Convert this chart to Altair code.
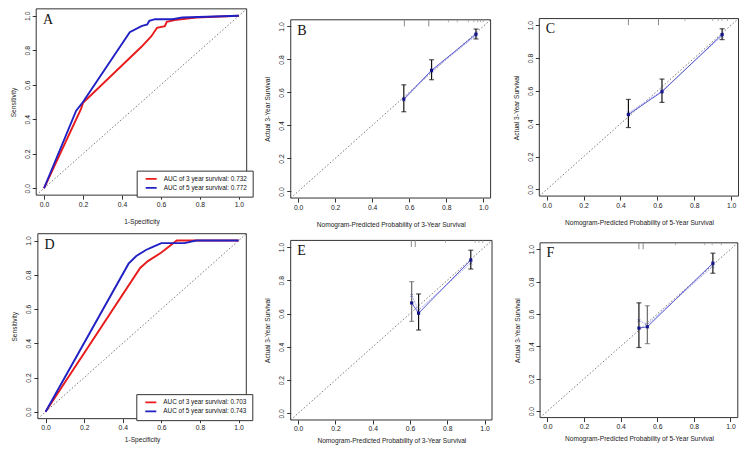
import altair as alt
import pandas as pd

# ---------------- data ----------------
# ROC curves (panel A: training, panel D: validation)
A3_FPR = [0.0, 0.19, 0.20, 0.50, 0.55, 0.58, 0.62, 0.63, 0.67, 0.78, 1.0]
A3_TPR = [0.0, 0.46, 0.495, 0.82, 0.88, 0.93, 0.94, 0.965, 0.975, 0.99, 1.0]
A5_FPR = [0.0, 0.165, 0.20, 0.44, 0.50, 0.53, 0.54, 0.57, 0.66, 0.71, 1.0]
A5_TPR = [0.0, 0.45, 0.50, 0.905, 0.94, 0.95, 0.97, 0.98, 0.98, 0.99, 1.0]
A_LABELS = ["AUC of 3 year survival:  0.732", "AUC of 5 year survival:  0.772"]

D3_FPR = [0.0, 0.49, 0.53, 0.60, 0.68, 1.0]
D3_TPR = [0.0, 0.84, 0.88, 0.93, 1.0, 1.0]
D5_FPR = [0.0, 0.43, 0.47, 0.52, 0.55, 0.60, 0.72, 0.78, 1.0]
D5_TPR = [0.0, 0.865, 0.91, 0.945, 0.96, 0.985, 0.985, 1.0, 1.0]
D_LABELS = ["AUC of 3 year survival:  0.703", "AUC of 5 year survival:  0.743"]

# Calibration curves
B_PRED = [0.571, 0.721, 0.961]
B_OBS = [0.560, 0.734, 0.953]
B_LO = [0.483, 0.677, 0.924]
B_HI = [0.646, 0.798, 0.984]
B_CORR = [0.555, 0.728, 0.945]
B_RUG_LONG = [0.574, 0.706]
B_RUG_SHORT = [0.812, 0.86, 0.92, 0.95, 0.97, 0.985, 1.0]

C_PRED = [0.443, 0.625, 0.951]
C_OBS = [0.456, 0.595, 0.943]
C_LO = [0.377, 0.530, 0.912]
C_HI = [0.548, 0.672, 0.978]
C_CORR = [0.465, 0.600, 0.935]
C_RUG_LONG = [0.443, 0.606]
C_RUG_SHORT = [0.75, 0.90, 0.93, 0.95, 0.98]

E_PRED = [0.609, 0.646, 0.926]
E_OBS = [0.664, 0.602, 0.922]
E_LO = [0.553, 0.501, 0.868]
E_HI = [0.792, 0.718, 0.981]
E_CORR = [0.709, 0.620, 0.905]
E_RUG_LONG = [0.607, 0.628]
E_RUG_SHORT = [0.79, 0.95, 0.97, 0.99]

F_PRED = [0.500, 0.546, 0.904]
F_OBS = [0.513, 0.521, 0.914]
F_LO = [0.393, 0.417, 0.852]
F_HI = [0.669, 0.651, 0.976]
F_CORR = [0.560, 0.535, 0.895]
F_RUG_LONG = [0.500, 0.523]
F_RUG_SHORT = [0.70, 0.86, 0.90, 0.95]

TICKS = [0.0, 0.2, 0.4, 0.6, 0.8, 1.0]

# ---------------- layout ----------------
W, H = 731, 438
SX, SY = 731 / 745, 438 / 452
LO, HI = -0.04, 1.04
FONT = "Liberation Sans"
RED, BLUE = "#e81a1a", "#2020c4"


def px(v):
    return (v - 1) * SX


def py(v):
    return v * SY


# reference-pixel positions of value 0 and value 1 on each panel (x0, x1, y0, y1)
GEOM = {
    "A": (37.7, 236.3, 186.0, 8.0),
    "B": (296.7, 485.3, 189.3, 19.0),
    "C": (550.0, 738.0, 187.3, 17.7),
    "D": (39.3, 236.0, 416.7, 240.0),
    "E": (296.7, 486.7, 418.3, 246.7),
    "F": (550.7, 737.3, 416.0, 249.0),
}
TOP_ROW = ("A", "B", "C")


def box(key):
    x0, x1, y0, y1 = GEOM[key]
    dx, dy = x1 - x0, y0 - y1
    return px(x0 - 0.04 * dx), px(x1 + 0.04 * dx), py(y0 + 0.04 * dy), py(y1 - 0.04 * dy)


def scales(key):
    left, right, bottom, top = box(key)
    xs = alt.Scale(domain=[LO, HI], range=[left, right], nice=False, zero=False)
    ys = alt.Scale(domain=[LO, HI], range=[bottom, top], nice=False, zero=False)
    return xs, ys


def frame(key, xtitle, ytitle):
    xs, ys = scales(key)
    left, right, bottom, top = box(key)
    df = pd.DataFrame({"lo": [LO], "hi": [HI]})
    xpad = 11 if key in TOP_ROW else 5
    return alt.Chart(df).mark_rect(filled=False, color="#333", strokeWidth=1).encode(
        x=alt.X("lo:Q", scale=xs, axis=alt.Axis(orient="bottom", offset=bottom - H, values=TICKS,
                                                format=".1f", title=xtitle, titlePadding=xpad)),
        x2="hi:Q",
        y=alt.Y("lo:Q", scale=ys, axis=alt.Axis(orient="left", offset=-left, values=TICKS,
                                                format=".1f", title=ytitle, labelAngle=270,
                                                labelAlign="center", labelBaseline="bottom",
                                                titlePadding=8)),
        y2="hi:Q",
    )


def diag(key):
    xs, ys = scales(key)
    df = pd.DataFrame({"d": [LO, HI]})
    return alt.Chart(df).mark_line(color="#555", strokeWidth=0.8, strokeDash=[1.5, 2]).encode(
        x=alt.X("d:Q", scale=xs, axis=None),
        y=alt.Y("d:Q", scale=ys, axis=None),
    )


def letter(key):
    xs, ys = scales(key)
    df = pd.DataFrame({"x": [-0.005], "y": [0.975], "t": [key]})
    return alt.Chart(df).mark_text(align="left", baseline="middle", font="Liberation Serif",
                                   fontSize=14, color="#111").encode(
        x=alt.X("x:Q", scale=xs, axis=None),
        y=alt.Y("y:Q", scale=ys, axis=None),
        text="t:N",
    )


def roc(key, f3, t3, f5, t5, labels):
    xs, ys = scales(key)
    left, right, bottom, top = box(key)
    df = pd.DataFrame({
        "fpr": f3 + f5,
        "tpr": t3 + t5,
        "curve": [labels[0]] * len(f3) + [labels[1]] * len(f5),
        "ord": list(range(len(f3))) + list(range(len(f5))),
    })
    legend = alt.Legend(orient="none", legendX=right - 110, legendY=bottom - 24.5, title=None,
                        symbolType="stroke", symbolSize=121, symbolStrokeWidth=1.8,
                        clipHeight=8.3, rowPadding=0, padding=4, symbolOffset=4, labelOffset=6,
                        strokeColor="#333", fillColor="white", labelFont=FONT, labelFontSize=6.4,
                        labelColor="#111")
    lines = alt.Chart(df).mark_line(strokeWidth=1.9).encode(
        x=alt.X("fpr:Q", scale=xs, axis=None),
        y=alt.Y("tpr:Q", scale=ys, axis=None),
        color=alt.Color("curve:N", scale=alt.Scale(domain=labels, range=[RED, BLUE]), legend=legend),
        order="ord:Q",
    )
    return [frame(key, "1-Specificity", "Sensitivity"), diag(key), lines, letter(key)]


def calib(key, pred, obs, lo, hi, corr, rug_long, rug_short, bar_colors, xtitle):
    xs, ys = scales(key)
    pts = pd.DataFrame({"pred": pred, "obs": obs, "lo": lo, "hi": hi, "corr": corr,
                        "i": [str(k) for k in range(len(pred))]})
    caps = pd.DataFrame({"pred": pred + pred, "v": lo + hi,
                         "i": [str(k) for k in range(len(pred))] * 2})
    bar_color = alt.Color("i:N", scale=alt.Scale(domain=["0", "1", "2"], range=bar_colors), legend=None)
    rl = pd.DataFrame({"r": rug_long})
    rs = pd.DataFrame({"r": rug_short})

    rug_long_l = alt.Chart(rl).mark_rule(color="#8a8a8a", strokeWidth=1).encode(
        x=alt.X("r:Q", scale=xs, axis=None),
        y=alt.YDatum(HI, scale=ys, axis=None),
        y2=alt.Y2Datum(1.0),
    )
    rug_short_l = alt.Chart(rs).mark_rule(color="#9a9a9a", strokeWidth=0.8).encode(
        x=alt.X("r:Q", scale=xs, axis=None),
        y=alt.YDatum(HI, scale=ys, axis=None),
        y2=alt.Y2Datum(1.025),
    )
    corr_line = alt.Chart(pts).mark_line(color="#a9a9ee", strokeWidth=1, strokeDash=[2, 1]).encode(
        x=alt.X("pred:Q", scale=xs, axis=None),
        y=alt.Y("corr:Q", scale=ys, axis=None),
    )
    corr_pts = alt.Chart(pts).mark_point(shape="M -1 -1 L 1 1 M -1 1 L 1 -1", size=10, filled=False,
                                          color="#9a9ae6", strokeWidth=0.9, opacity=1).encode(
        x=alt.X("pred:Q", scale=xs, axis=None),
        y=alt.Y("corr:Q", scale=ys, axis=None),
    )
    obs_line = alt.Chart(pts).mark_line(color="#5a5ad2", strokeWidth=1).encode(
        x=alt.X("pred:Q", scale=xs, axis=None),
        y=alt.Y("obs:Q", scale=ys, axis=None),
    )
    bars = alt.Chart(pts).mark_rule(strokeWidth=1.2).encode(
        x=alt.X("pred:Q", scale=xs, axis=None),
        y=alt.Y("lo:Q", scale=ys, axis=None),
        y2="hi:Q",
        color=bar_color,
    )
    cap_l = alt.Chart(caps).mark_tick(orient="horizontal", size=5, thickness=1.2).encode(
        x=alt.X("pred:Q", scale=xs, axis=None),
        y=alt.Y("v:Q", scale=ys, axis=None),
        color=bar_color,
    )
    dots = alt.Chart(pts).mark_square(size=10, color="#14148c", opacity=1).encode(
        x=alt.X("pred:Q", scale=xs, axis=None),
        y=alt.Y("obs:Q", scale=ys, axis=None),
    )
    return [frame(key, xtitle, "Actual 3-Year Survival"), diag(key), rug_long_l, rug_short_l,
            corr_line, corr_pts, obs_line, bars, cap_l, dots, letter(key)]


X3 = "Nomogram-Predicted Probability of 3-Year Survival"
X5 = "Nomogram-Predicted Probability of 5-Year Survival"
BLACK3 = ["#111", "#111", "#111"]

layers = []
layers += roc("A", A3_FPR, A3_TPR, A5_FPR, A5_TPR, A_LABELS)
layers += calib("B", B_PRED, B_OBS, B_LO, B_HI, B_CORR, B_RUG_LONG, B_RUG_SHORT, BLACK3, X3)
layers += calib("C", C_PRED, C_OBS, C_LO, C_HI, C_CORR, C_RUG_LONG, C_RUG_SHORT, BLACK3, X5)
layers += roc("D", D3_FPR, D3_TPR, D5_FPR, D5_TPR, D_LABELS)
layers += calib("E", E_PRED, E_OBS, E_LO, E_HI, E_CORR, E_RUG_LONG, E_RUG_SHORT,
                ["#6a6a6a", "#111", "#111"], X3)
layers += calib("F", F_PRED, F_OBS, F_LO, F_HI, F_CORR, F_RUG_LONG, F_RUG_SHORT,
                ["#111", "#6a6a6a", "#111"], X5)

chart = (
    alt.layer(*layers)
    .resolve_scale(x="independent", y="independent", color="independent")
    .properties(width=W, height=H, autosize=alt.AutoSizeParams(type="none"), padding=0,
                background="white")
    .configure_view(strokeWidth=0)
    .configure_axis(grid=False, domain=False, ticks=True, tickSize=4, tickColor="#333", tickWidth=1,
                    labelFont=FONT, labelFontSize=6.8, labelColor="#222", labelPadding=2,
                    labelOverlap=False, labelFlush=False, labelBound=False,
                    titleFont=FONT, titleFontSize=6.6, titleFontWeight="normal", titleColor="#222")
)

chart.save("out.html", embed_options={"renderer": "svg", "actions": False})
